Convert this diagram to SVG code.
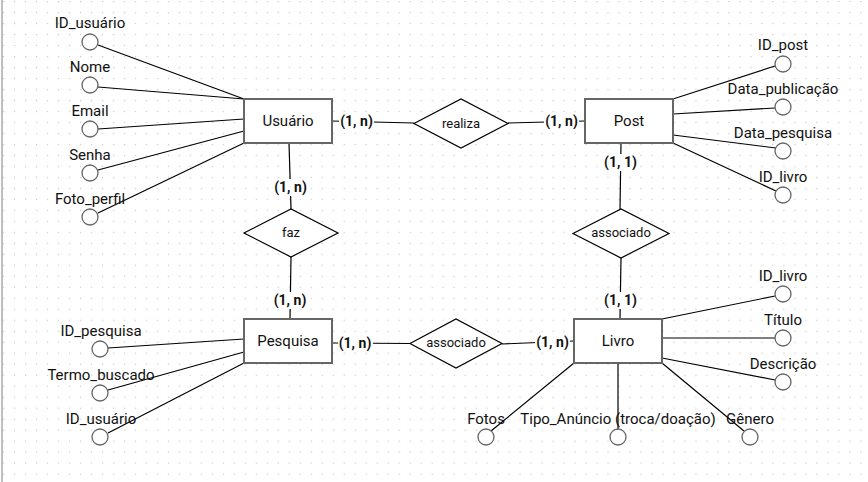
<svg xmlns="http://www.w3.org/2000/svg" width="868" height="482" viewBox="0 0 868 482">
<defs>
<pattern id="grid" x="3" y="1" width="10.99" height="10.99" patternUnits="userSpaceOnUse">
<rect x="0" y="0" width="1.2" height="1.2" fill="#c8c8c8"/>
</pattern>
<style>
.ent{fill:#fff;stroke:#666;stroke-width:2}
.rel{fill:#fff;stroke:#000;stroke-width:1.2}
.att{fill:#fff;stroke:#666;stroke-width:1.3}
.ln{stroke:#000;stroke-width:1.2;fill:none}
.t{font-family:Roboto,"Liberation Sans",Arial,sans-serif;font-size:15px;fill:#111;text-anchor:middle;dominant-baseline:central}
.rt{font-family:Roboto,"Liberation Sans",Arial,sans-serif;font-size:13px;fill:#111;text-anchor:middle;dominant-baseline:central}
.c{font-family:Roboto,"Liberation Sans",Arial,sans-serif;font-size:14px;font-weight:bold;fill:#111;text-anchor:middle;dominant-baseline:central}
.lb{fill:#fff}
</style>
</defs>
<rect x="0" y="0" width="868" height="482" fill="#fff"/>
<rect x="0" y="0" width="868" height="482" fill="url(#grid)"/>
<line x1="2" y1="0" x2="2" y2="482" stroke="#aaa" stroke-width="1.5"/>

<g id="connectors">
<line class="ln" x1="332" y1="121" x2="414" y2="123"/>
<line class="ln" x1="508" y1="123" x2="585" y2="121"/>
<line class="ln" x1="289" y1="143" x2="291" y2="209"/>
<line class="ln" x1="291" y1="257" x2="290" y2="319"/>
<line class="ln" x1="621" y1="143" x2="620" y2="209"/>
<line class="ln" x1="621" y1="258" x2="620" y2="319"/>
<line class="ln" x1="332" y1="343" x2="410" y2="343.5"/>
<line class="ln" x1="502" y1="344" x2="574" y2="341"/>
<line class="ln" x1="98" y1="45" x2="244" y2="99"/>
<line class="ln" x1="98" y1="87" x2="244" y2="99"/>
<line class="ln" x1="98" y1="129" x2="244" y2="119"/>
<line class="ln" x1="98" y1="170" x2="244" y2="131"/>
<line class="ln" x1="98" y1="213" x2="244" y2="143"/>
<line class="ln" x1="673" y1="99" x2="775" y2="66"/>
<line class="ln" x1="673" y1="114" x2="775" y2="108"/>
<line class="ln" x1="673" y1="135" x2="776" y2="148"/>
<line class="ln" x1="673" y1="143" x2="776" y2="191"/>
<line class="ln" x1="108" y1="348" x2="244" y2="339"/>
<line class="ln" x1="108" y1="390" x2="244" y2="352"/>
<line class="ln" x1="108" y1="433" x2="244" y2="363"/>
<line class="ln" x1="662" y1="319" x2="775" y2="296"/>
<line class="ln" x1="662" y1="338" x2="775" y2="338"/>
<line class="ln" x1="662" y1="358" x2="775" y2="380"/>
<line class="ln" x1="574" y1="363" x2="491" y2="431"/>
<line class="ln" x1="618" y1="363" x2="618" y2="429"/>
<line class="ln" x1="662" y1="363" x2="744" y2="431"/>
<rect class="lb" x="339" y="113" width="35" height="17"/>
<text class="c" x="356.5" y="121">(1, n)</text>
<rect class="lb" x="544" y="113" width="35" height="17"/>
<text class="c" x="561.5" y="121">(1, n)</text>
<rect class="lb" x="273" y="179" width="35" height="17"/>
<text class="c" x="290.5" y="187">(1, n)</text>
<rect class="lb" x="273" y="292" width="35" height="17"/>
<text class="c" x="290" y="300">(1, n)</text>
<rect class="lb" x="603" y="154" width="35" height="17"/>
<text class="c" x="620.5" y="162">(1, 1)</text>
<rect class="lb" x="603" y="292" width="35" height="17"/>
<text class="c" x="620.5" y="300">(1, 1)</text>
<rect class="lb" x="338" y="335" width="35" height="17"/>
<text class="c" x="355" y="343">(1, n)</text>
<rect class="lb" x="535" y="335" width="35" height="17"/>
<text class="c" x="552.5" y="342">(1, n)</text>
</g>

<g id="usuario"><rect class="ent" x="244" y="99" width="88" height="44"/><text class="t" x="288" y="121">Usuário</text></g>
<g id="post"><rect class="ent" x="585" y="99" width="88" height="44"/><text class="t" x="629" y="121">Post</text></g>
<g id="pesquisa"><rect class="ent" x="244" y="319" width="88" height="44"/><text class="t" x="288" y="341">Pesquisa</text></g>
<g id="livro"><rect class="ent" x="574" y="319" width="88" height="44"/><text class="t" x="618" y="341">Livro</text></g>

<g id="realiza"><polygon class="rel" points="414,123.5 461,99 508,123.5 461,148"/><text class="rt" x="461" y="123">realiza</text></g>
<g id="faz"><polygon class="rel" points="244,233 291,209 338,233 291,257"/><text class="rt" x="291" y="232">faz</text></g>
<g id="associado1"><polygon class="rel" points="573,233.5 621,209 669,233.5 621,258"/><text class="rt" x="621" y="232">associado</text></g>
<g id="associado2"><polygon class="rel" points="410,343.5 456,319 502,343.5 456,368"/><text class="rt" x="456" y="342">associado</text></g>

<g id="attr-usuario">
<circle class="att" cx="90" cy="42" r="8"/><text class="t" x="90" y="22.5">ID_usuário</text>
<circle class="att" cx="90" cy="85" r="8"/><text class="t" x="90" y="66.5">Nome</text>
<circle class="att" cx="90" cy="129" r="8"/><text class="t" x="90" y="110.5">Email</text>
<circle class="att" cx="90" cy="173" r="8"/><text class="t" x="90" y="154.5">Senha</text>
<circle class="att" cx="90" cy="217" r="8"/><text class="t" x="90" y="198.5">Foto_perfil</text>
</g>
<g id="attr-post">
<circle class="att" cx="783" cy="64" r="8"/><text class="t" x="783" y="44.5">ID_post</text>
<circle class="att" cx="783" cy="107" r="8"/><text class="t" x="783" y="88.5">Data_publicação</text>
<circle class="att" cx="783" cy="151" r="8"/><text class="t" x="783" y="132.5">Data_pesquisa</text>
<circle class="att" cx="783" cy="195" r="8"/><text class="t" x="783" y="176.5">ID_livro</text>
</g>
<g id="attr-pesquisa">
<circle class="att" cx="100" cy="349" r="8"/><text class="t" x="101" y="330.5">ID_pesquisa</text>
<circle class="att" cx="100" cy="393" r="8"/><text class="t" x="101" y="374.5">Termo_buscado</text>
<circle class="att" cx="100" cy="437" r="8"/><text class="t" x="101" y="418.5">ID_usuário</text>
</g>
<g id="attr-livro">
<circle class="att" cx="783" cy="294" r="8"/><text class="t" x="783" y="275.5">ID_livro</text>
<circle class="att" cx="783" cy="338" r="8"/><text class="t" x="783" y="319.5">Título</text>
<circle class="att" cx="783" cy="382" r="8"/><text class="t" x="783" y="363.5">Descrição</text>
<circle class="att" cx="486" cy="437" r="8"/><text class="t" x="486" y="418.5">Fotos</text>
<circle class="att" cx="618" cy="437" r="8"/><text class="t" x="618" y="418.5">Tipo_Anúncio (troca/doação)</text>
<circle class="att" cx="750" cy="437" r="8"/><text class="t" x="750" y="418.5">Gênero</text>
</g>
</svg>
